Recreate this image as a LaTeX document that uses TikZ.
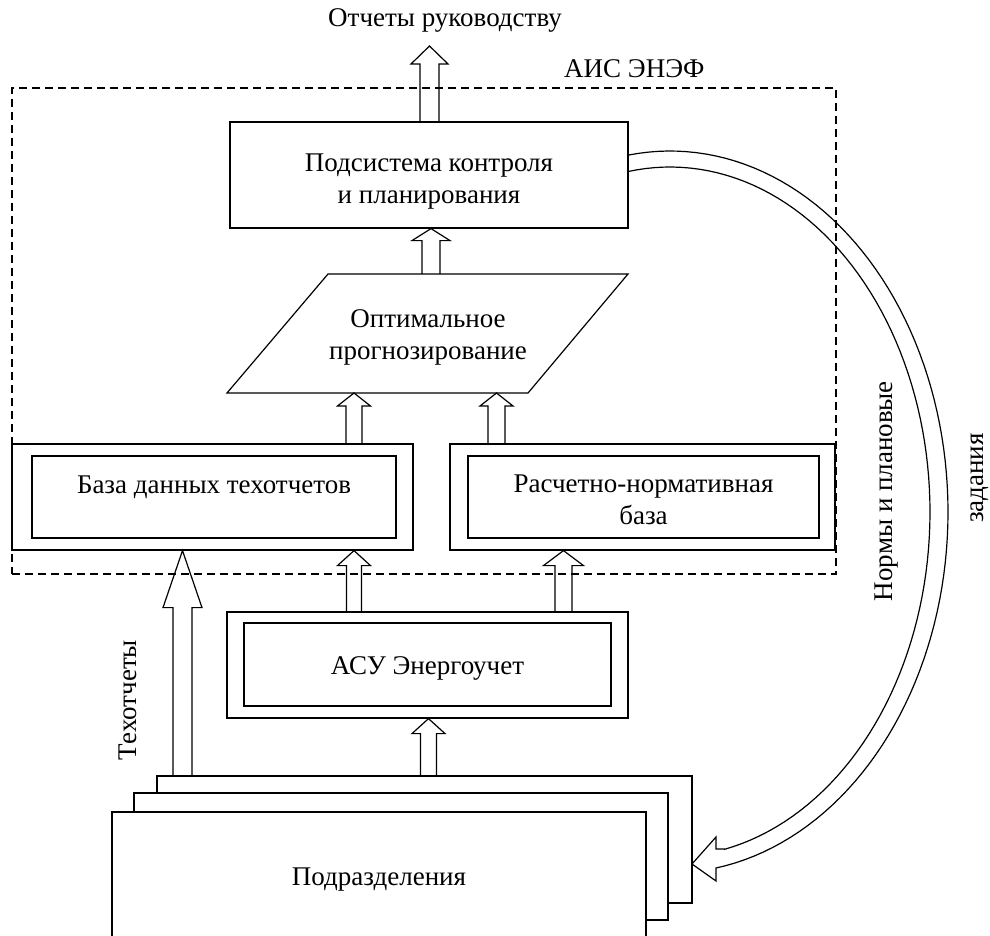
\documentclass[tikz,border=0pt]{standalone}
\usepackage{fontspec}
\setmainfont{Liberation Serif}
\usetikzlibrary{calc}
\tikzset{
  box/.style={draw, rectangle, inner sep=0pt, line width=1.2pt},
  wbox/.style={box, fill=white},
  lbl/.style={inner sep=0pt, align=center},
  arrline/.style={draw, line width=1.2pt, line join=miter},
  frame/.style={draw, rectangle, inner sep=0pt, line width=1.1pt, dash pattern=on 8pt off 5pt},
}
% #1 tail point, #2 tip point, #3 shaft half width, #4 head half width, #5 head length
\newcommand\harrow[5]{%
  \draw[arrline] ($(#1)+(-#3,0)$) -- ($(#2)+(-#3,#5)$) -- ($(#2)+(-#4,#5)$) -- (#2)
    -- ($(#2)+(#4,#5)$) -- ($(#2)+(#3,#5)$) -- ($(#1)+(#3,0)$);}
\begin{document}
\begin{tikzpicture}[x=1pt,y=-1pt, every node/.style={font=\fontsize{27}{32}\selectfont}]
\useasboundingbox (0,0) rectangle (990,936);

% dashed system frame
\node[frame, minimum width=824pt, minimum height=486pt] (ais) at (424,331) {};
\node[lbl, anchor=base west] (aistxt) at (564,78) {АИС ЭНЭФ};

% control subsystem
\node[box, minimum width=398pt, minimum height=106pt] (ctl) at (429,175) {};
\node[lbl] (ctltxt) at (429,182) {Подсистема контроля\\и планирования};

% parallelogram
\draw[line width=1.2pt, line join=miter] (227,393) coordinate (pBL) -- (328,274) coordinate (pTL)
   -- (628,274) coordinate (pTR) -- (528,393) coordinate (pBR) -- cycle;
\node[lbl] (opt) at (428,337) {Оптимальное\\прогнозирование};

% database of reports
\node[box, minimum width=401pt, minimum height=106pt] (db) at (212.5,497) {};
\node[box, minimum width=364pt, minimum height=82pt] (dbin) at (214,497) {};
\node[lbl] (dbtxt) at (214,487) {База данных техотчетов};

% normative base
\node[box, minimum width=385pt, minimum height=106pt] (rn) at (642.5,497) {};
\node[box, minimum width=351pt, minimum height=82pt] (rnin) at (643.5,497) {};
\node[lbl] (rntxt) at (643.5,500) {Расчетно-нормативная\\база};

% ASU
\node[box, minimum width=401pt, minimum height=106pt] (asu) at (427.5,665) {};
\node[box, minimum width=367pt, minimum height=83pt] (asuin) at (427.5,664.5) {};
\node[lbl] (asutxt) at (427.5,668) {АСУ Энергоучет};

% stacked departments
\node[wbox, minimum width=535pt, minimum height=127pt] (sub3) at (424.5,839.5) {};
\node[wbox, minimum width=534pt, minimum height=127pt] (sub2) at (401,856.5) {};
\node[wbox, minimum width=534pt, minimum height=127pt] (sub1) at (379,875.5) {};
\node[lbl] (subtxt) at (379,880) {Подразделения};

% x positions for arrows
\coordinate (xA) at (429.5,0);
\coordinate (xB) at (431,0);
\coordinate (xC) at (354,0);
\coordinate (xD) at (496.5,0);
\coordinate (xE) at (563.5,0);
\coordinate (xF) at (428.5,0);
\coordinate (xG) at (182.5,0);
\coordinate (rep) at (429.5,46);

% hollow arrows
\harrow{ctl.north -| xA}{rep}{9.5}{18.5}{18}
\harrow{pTL -| xB}{ctl.south -| xB}{9}{19}{12}
\harrow{db.north -| xC}{pBL -| xC}{8}{16.5}{13}
\harrow{rn.north -| xD}{pBL -| xD}{8.5}{16.5}{13}
\harrow{asu.north -| xC}{db.south -| xC}{7.5}{16.5}{15}
\harrow{asu.north -| xE}{rn.south -| xE}{8.5}{20}{15}
\harrow{sub3.north -| xF}{asu.south -| xF}{8}{16.5}{15}
\harrow{sub3.north -| xG}{db.south -| xG}{9.5}{19.5}{57}

\node[lbl, anchor=base east] (reptxt) at (562,27) {Отчеты руководству};
\node[lbl, rotate=90, anchor=base] (tech) at (136,700) {Техотчеты};

% curved feedback arrow
\draw[arrline] plot[domain=-98.7:80.5, samples=90, variable=\t] ({670+278*cos(\t)},{512+361*sin(\t)})
   -- (716,881) -- (692,864) -- (716,837) -- (716,849) -- (725,849)
   -- plot[domain=77.8:-99.3, samples=90, variable=\t] ({670+260*cos(\t)},{512+345*sin(\t)});
\node[lbl, rotate=90, anchor=base] (norm1) at (892,491) {Нормы и плановые};
\node[lbl, rotate=90, anchor=base] (norm2) at (983,478) {задания};
\end{tikzpicture}
\end{document}
